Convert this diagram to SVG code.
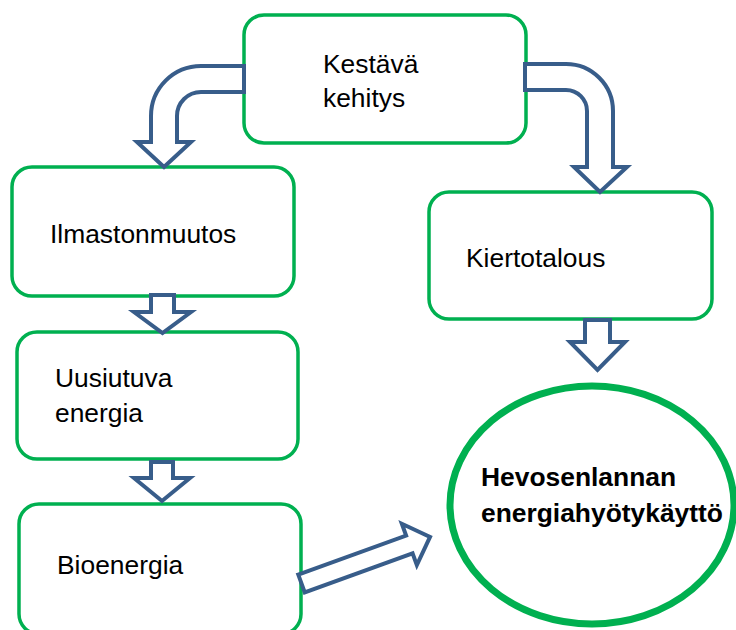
<svg xmlns="http://www.w3.org/2000/svg" width="736" height="630" viewBox="0 0 736 630">
<style>
.box{fill:#ffffff;stroke:#00B050;stroke-width:3.5}
.arr{fill:#ffffff;stroke:#385D8A;stroke-width:4;stroke-linejoin:miter}
.t{font-family:"Liberation Sans",Arial,sans-serif;font-size:26.4px;fill:#000000}
.b{font-weight:bold}
</style>
<rect width="736" height="630" fill="#ffffff"/>
<g id="kestava">
<rect class="box" x="244" y="15" width="282" height="128" rx="20"/>
<text class="t" x="323" y="73">Kestävä</text>
<text class="t" x="323" y="107">kehitys</text>
</g>
<g id="ilmastonmuutos">
<rect class="box" x="12" y="167" width="282" height="129" rx="20"/>
<text class="t" x="50" y="243">Ilmastonmuutos</text>
</g>
<g id="uusiutuva">
<rect class="box" x="17" y="332" width="281" height="127" rx="20"/>
<text class="t" x="55" y="387">Uusiutuva</text>
<text class="t" x="55" y="422">energia</text>
</g>
<g id="bioenergia">
<rect class="box" x="19" y="504" width="282" height="130" rx="20"/>
<text class="t" x="57" y="574">Bioenergia</text>
</g>
<g id="kiertotalous">
<rect class="box" x="429" y="192" width="283" height="127" rx="20"/>
<text class="t" x="466" y="267">Kiertotalous</text>
</g>
<g id="hevosenlanta">
<ellipse cx="592" cy="505" rx="142" ry="119" fill="#ffffff" stroke="#00B050" stroke-width="7"/>
<text class="t b" x="481" y="486">Hevosenlannan</text>
<text class="t b" x="481" y="522">energiahyötykäyttö</text>
</g>
<g id="connectors">
<path class="arr" d="M244,66 L201,66 A50,50 0 0 0 151,116 L151,142 L137,142 L164,167 L191,142 L177,142 L177,116 A24,24 0 0 1 201,92 L244,92 Z"/>
<path class="arr" d="M525,64 L566,64 A47,47 0 0 1 613,111 L613,167 L627,167 L600,192 L574,167 L587,167 L587,111 A21,21 0 0 0 566,90 L525,90 Z"/>
<polygon class="arr" points="151,295 174,295 174,312 191,312 162.5,333 134,312 151,312"/>
<polygon class="arr" points="151,462 173,462 173,478 190,478 162,501 134,478 151,478"/>
<polygon class="arr" points="585,320 610,320 610,342 625,342 597.5,370 570,342 585,342"/>
<polygon class="arr" transform="translate(301.5,583.5) rotate(-19.9)" points="0,-9.5 114.7,-9.5 114.7,-22 136.7,0 114.7,22 114.7,9.5 0,9.5"/>
</g>
</svg>
